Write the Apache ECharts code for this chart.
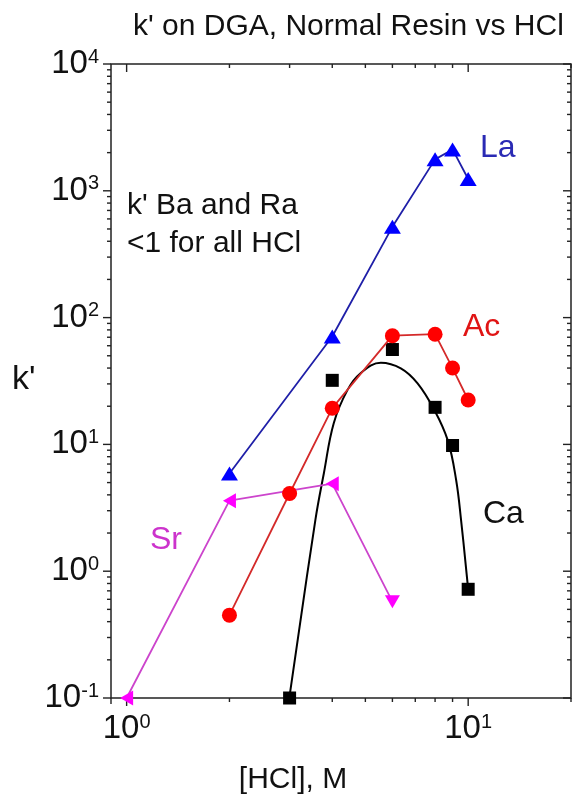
<!DOCTYPE html>
<html>
<head>
<meta charset="utf-8">
<script src="https://cdn.jsdelivr.net/npm/echarts@6/dist/echarts.min.js"></script>
<style>
  html, body { margin: 0; padding: 0; background: #fff; }
  #chart { width: 574px; height: 805px; }
</style>
</head>
<body>
<div id="chart"></div>
<script>
// 数据
var laX = [2, 4, 6, 8, 9, 10];
var laK = [5.9, 71, 520, 1770, 2120, 1240];

var acX = [2, 3, 4, 6, 8, 9, 10];
var acK = [0.45, 4.1, 19.3, 72, 74, 40, 22.4];

var caX = [3, 4, 6, 8, 9, 10];
var caK = [0.1, 32, 56, 19.6, 9.8, 0.72];

var srX = [1, 2, 4, 6];
var srK = [0.1, 3.6, 4.9, 0.575];

// Ca 拟合曲线 (沿曲线读点)
var caFitX = [3.0, 3.57, 3.78, 4.04, 4.43, 4.84, 5.55, 6.35, 7.11, 7.96, 8.71, 9.22, 9.53, 10.0];
var caFitK = [0.104, 2.54, 5.92, 14.7, 26.8, 36.4, 44.1, 39.8, 30.3, 18.7, 10.8, 5.24, 2.54, 0.72];

// 坐标轴范围和刻度
var xMin = 0.9, xMax = 20;
var yMin = 0.1, yMax = 10000;
var xMajorTicks = [1, 10];
var xMinorTicks = [2, 3, 4, 5, 6, 7, 8, 9, 20];
var yMajorTicks = [0.1, 1, 10, 100, 1000, 10000];
var yMinorTicks = [];
for (var d = 0.1; d < 9000; d *= 10) {
    for (var m = 2; m <= 9; m++) yMinorTicks.push(+(d * m).toPrecision(3));
}

var FONT = "'Liberation Sans Narrow', 'Liberation Sans', sans-serif";

function pairs(xs, ys) {
    return xs.map(function (x, i) { return [x, ys[i]] })
}

function powLabel(value) {
    var e = Math.log10(value)
    var r = Math.round(e)
    if (Math.abs(e - r) > 1e-6) return ''
    return '{b|10}{s|' + r + '}'
}

var labelRich = {
    b: { fontSize: 33, fontFamily: FONT, color: '#111' },
    s: { fontSize: 20, fontFamily: FONT, color: '#111', verticalAlign: 'top', padding: [0, 0, 14, 0] }
}

var chart = echarts.init(document.getElementById('chart'))

var option = {
    backgroundColor: '#fff',
    animation: false,
    grid: {
        left: 111, right: 3, top: 64, bottom: 107,
        show: true, borderColor: '#222', borderWidth: 1.5
    },
    xAxis: {
        type: 'log', logBase: 10, min: xMin, max: xMax,
        axisLine: { show: false },
        axisTick: { show: false },
        splitLine: { show: false },
        axisLabel: {
            margin: 14, showMinLabel: false, showMaxLabel: false,
            formatter: powLabel, rich: labelRich
        }
    },
    yAxis: {
        type: 'log', logBase: 10, min: yMin, max: yMax,
        axisLine: { show: false },
        axisTick: { show: false },
        splitLine: { show: false },
        axisLabel: { margin: 12, formatter: powLabel, rich: labelRich }
    },
    series: [
        {
            name: 'Ca fit', type: 'line', data: pairs(caFitX, caFitK),
            smooth: 0.4, showSymbol: false, z: 3,
            lineStyle: { color: '#000', width: 2 }
        },
        {
            name: 'Ca', type: 'scatter', data: pairs(caX, caK),
            symbol: 'rect', symbolSize: 13, z: 4,
            itemStyle: { color: '#000', opacity: 1 }
        },
        {
            name: 'Sr', type: 'line', z: 5,
            data: pairs(srX, srK).map(function (p, i) {
                return { value: p, symbolRotate: i === srX.length - 1 ? 180 : 90 }
            }),
            symbol: 'triangle', symbolSize: [15, 13],
            lineStyle: { color: '#cc44cc', width: 1.8 },
            itemStyle: { color: '#ff00ff' }
        },
        {
            name: 'Ac', type: 'line', data: pairs(acX, acK), z: 6,
            symbol: 'circle', symbolSize: 15,
            lineStyle: { color: '#d42a2a', width: 1.8 },
            itemStyle: { color: '#ff0000' }
        },
        {
            name: 'La', type: 'line', data: pairs(laX, laK), z: 7,
            symbol: 'triangle', symbolSize: [17, 14],
            lineStyle: { color: '#1f1fa8', width: 1.8 },
            itemStyle: { color: '#0000ff' }
        }
    ]
}

chart.setOption(option)

// 刻度线和文字: 用坐标轴换算到像素后画
function addOverlay() {
    var toPx = function (p) { return chart.convertToPixel({ gridIndex: 0 }, p) }
    var gTop = toPx([1, yMax])[1]
    var gBottom = toPx([1, yMin])[1]
    var gLeft = toPx([xMin, 1])[0]
    var gRight = toPx([xMax, 1])[0]

    function tickLine(x1, y1, x2, y2) {
        return { type: 'line', shape: { x1: x1, y1: y1, x2: x2, y2: y2 }, style: { stroke: '#222', lineWidth: 1.4 } }
    }

    var g = []
    xMajorTicks.concat(xMinorTicks).forEach(function (v, i) {
        var len = i < xMajorTicks.length ? 8 : 4
        var px = toPx([v, 1])[0]
        g.push(tickLine(px, gBottom, px, gBottom + len))
        g.push(tickLine(px, gTop, px, gTop + len))
    })
    yMajorTicks.concat(yMinorTicks).forEach(function (v, i) {
        var len = i < yMajorTicks.length ? 8 : 4
        var py = toPx([1, v])[1]
        g.push(tickLine(gLeft, py, gLeft - len, py))
        g.push(tickLine(gRight, py, gRight - len, py))
    })
    g.push(tickLine(gLeft, gBottom, gLeft, gBottom + 6))

    function txt(s, x, y, size, color, align) {
        return { type: 'text', x: x, y: y, style: { text: s, font: size + 'px ' + FONT, fill: color, align: align || 'left', verticalAlign: 'middle' } }
    }
    g.push(txt("k' on DGA, Normal Resin vs HCl", 133, 27, 30, '#111'))
    g.push(txt("k'", 12, 380, 34, '#111'))
    g.push(txt("[HCl], M", 293, 780, 30, '#111', 'center'))
    g.push(txt("k' Ba and Ra", 127, 206, 30, '#111'))
    g.push(txt("<1 for all HCl", 127, 244, 30, '#111'))
    g.push(txt("La", 480, 148, 32, '#2a2ab4'))
    g.push(txt("Ac", 463, 327, 32, '#e01414'))
    g.push(txt("Ca", 483, 514, 32, '#111'))
    g.push(txt("Sr", 150, 540, 32, '#cc33cc'))

    chart.setOption({ graphic: g })
}
addOverlay()
</script>
</body>
</html>
